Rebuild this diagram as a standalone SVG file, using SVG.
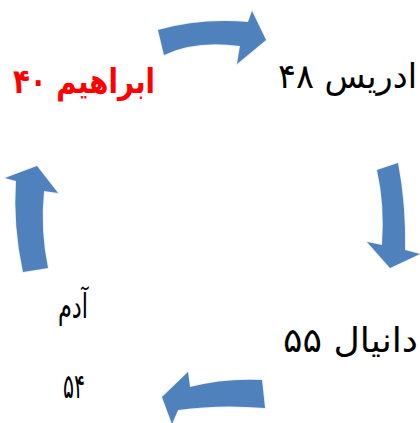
<svg xmlns="http://www.w3.org/2000/svg" width="420" height="423" viewBox="0 0 420 423">
<style>
.arrow{fill:#4f81bd;stroke:#eef2f8;stroke-width:2;stroke-linejoin:round;paint-order:stroke}
.lbl{font-family:"DejaVu Sans",sans-serif;font-size:34px;fill:#000}
.red{fill:#ff0000;font-weight:bold;font-size:34px}
</style>
<rect width="420" height="423" fill="#ffffff"/>
<g id="connectors">
<path class="arrow" d="M158,30 Q200,18 248,22 L252,11 L266,40 L237,64 L240,46 Q195,40 164,55 Z"/>
<path class="arrow" d="M377,170 L398,163 Q406,205 405,250 L420,254 L390,268 L367,242 L382,245 Q385,205 377,170 Z"/>
<path class="arrow" d="M262,380 Q225,378 190,387 L188,372 L162,397 L172,424 L178,410 Q220,404 265,408 Z"/>
<path class="arrow" d="M23,272 Q13,225 16,181 L5,178 L37,166 L58,193 L44,191 Q40,230 48,268 Z"/>
</g>
<g id="node-ibrahim"><text class="lbl red" x="13" y="93" textLength="142" lengthAdjust="spacingAndGlyphs">ابراهیم ۴۰</text></g>
<g id="node-idris"><text class="lbl" x="278" y="88" textLength="139" lengthAdjust="spacingAndGlyphs">ادریس ۴۸</text></g>
<g id="node-daniel"><text class="lbl" x="283" y="352" textLength="135" lengthAdjust="spacingAndGlyphs">دانیال ۵۵</text></g>
<g id="node-adam"><text class="lbl" x="58" y="318" textLength="30" lengthAdjust="spacingAndGlyphs">آدم</text><text class="lbl" x="63" y="398" textLength="22" lengthAdjust="spacingAndGlyphs">۵۴</text></g>
</svg>
